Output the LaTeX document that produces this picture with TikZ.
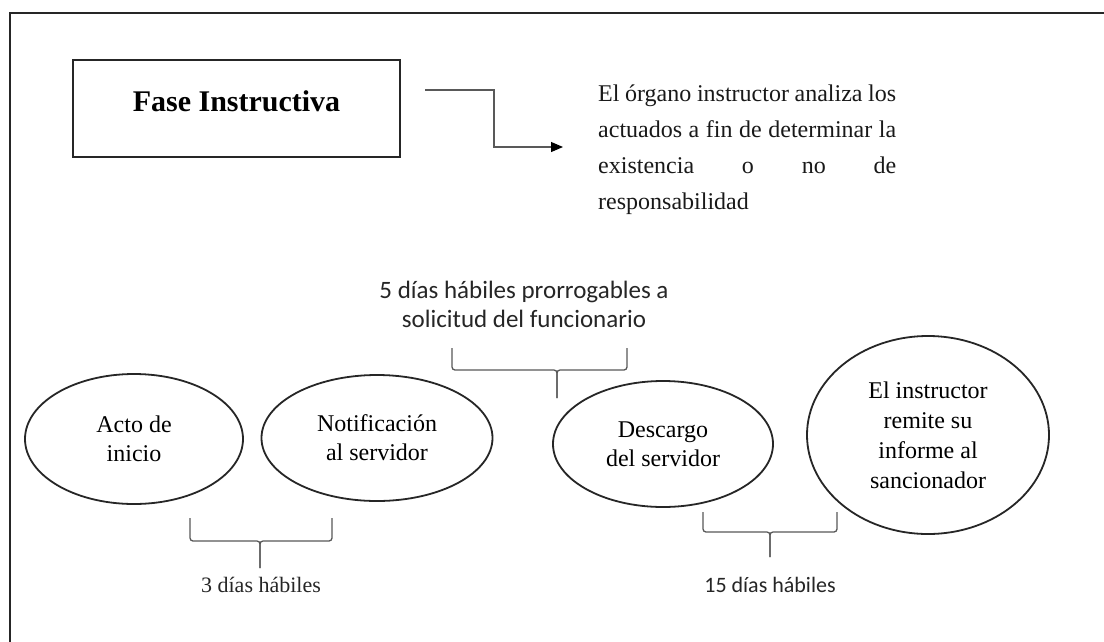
\documentclass[tikz,border=0pt]{standalone}
\usepackage{fontspec}
\setmainfont{Liberation Serif}
\newfontfamily\calibri{Carlito}
\usetikzlibrary{shapes.geometric,arrows.meta}
\begin{document}
\begin{tikzpicture}[x=1pt,y=-1pt,
  frameline/.style={draw=black!85,line width=2.4pt},
  fasebox/.style={draw=black!85,line width=2.4pt,minimum width=327pt,minimum height=97pt,inner sep=0pt},
  stage/.style={ellipse,draw=black!85,line width=1.8pt,inner sep=0pt,align=center,font=\fontsize{24}{29}\selectfont,text=black},
  bracketline/.style={draw=black!65,line width=1.3pt,rounded corners=3pt},
  note/.style={font=\calibri\fontsize{25}{29}\selectfont,align=center,text=black!85},
  flow/.style={draw=black!65,line width=1.1pt,-{Triangle[length=12pt,width=10pt,color=black]}}]
\useasboundingbox (0,0) rectangle (1104,641);
\fill[white] (0,0) rectangle (1104,641);
% outer frame (only top and left visible)
\draw[frameline] (10,700) -- (10,13) -- (1150,13);

% Fase Instructiva box
\node[fasebox] (fase) at (236.5,108.5) {};
\node[font=\bfseries\fontsize{30}{34}\selectfont,text=black] (fasetext) at ([yshift=7pt]fase.center) {Fase Instructiva};

% arrow
\coordinate (a1) at (425,90);
\coordinate (a2) at (563,147);
\draw[flow] (a1) -- (494,90) -- (494,147) -- (a2);

% description
\node[anchor=north west,inner sep=0pt,text width=298pt,align=justify,
      font=\fontsize{24}{36}\selectfont,text=black!90] (desc) at (598,85)
  {\hyphenpenalty=10000 El órgano instructor analiza los\linebreak
   actuados a fin de determinar la\linebreak
   existencia o no de\linebreak
   responsabilidad};

% stages
\node[stage,minimum width=218pt,minimum height=130pt] (s1) at (134,439) {Acto de\\inicio};
\node[stage,minimum width=231pt,minimum height=126pt] (s2) at (377,438) {Notificación\\al servidor};
\node[stage,minimum width=220pt,minimum height=126pt] (s3) at (663,444) {Descargo\\del servidor};
\node[stage,minimum width=242pt,minimum height=198pt,font=\fontsize{24}{30}\selectfont] (s4) at (928,435)
  {El instructor\\remite su\\informe al\\sancionador};

% brackets
\draw[bracketline] (190,518) -- (190,541) -- (260,541) -- (260,568);
\draw[bracketline] (332,518) -- (332,541) -- (260,541) -- (260,568);
\draw[bracketline] (452,348) -- (452,370) -- (557,370) -- (557,398);
\draw[bracketline] (627,348) -- (627,370) -- (557,370) -- (557,398);
\draw[bracketline] (703,512) -- (703,532) -- (770,532) -- (770,557);
\draw[bracketline] (837,512) -- (837,532) -- (770,532) -- (770,557);

% labels
\node[note] (n2) at (524,304) {5 días hábiles prorrogables a\\solicitud del funcionario};
\node[font=\fontsize{22}{26}\selectfont,text=black!85] (n1) at (261,585) {3 días hábiles};
\node[note,font=\calibri\fontsize{22}{26}\selectfont] (n3) at (770,585) {15 días hábiles};
\end{tikzpicture}
\end{document}
